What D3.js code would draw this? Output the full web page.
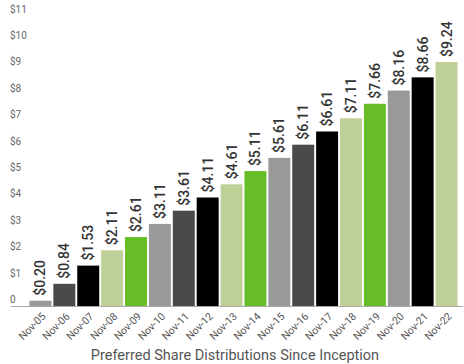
<!DOCTYPE html>
<html>
<head>
<meta charset="utf-8">
<script src="https://cdn.jsdelivr.net/npm/d3@7"></script>
<style>
  body { margin: 0; background: #fff; }
  svg { display: block; font-family: Roboto, "Noto Sans", sans-serif; }
</style>
</head>
<body>
<div id="chart"></div>
<script>
// --- data ---
const periods = ["Nov-05", "Nov-06", "Nov-07", "Nov-08", "Nov-09", "Nov-10", "Nov-11", "Nov-12", "Nov-13",
  "Nov-14", "Nov-15", "Nov-16", "Nov-17", "Nov-18", "Nov-19", "Nov-20", "Nov-21", "Nov-22"];
const distributions = [0.20, 0.84, 1.53, 2.11, 2.61, 3.11, 3.61, 4.11, 4.61,
  5.11, 5.61, 6.11, 6.61, 7.11, 7.66, 8.16, 8.66, 9.24];
const barColors = ["#999999", "#4a4a4a", "#000000", "#bfd096", "#67bd25", "#999999", "#4a4a4a", "#000000", "#bfd096",
  "#67bd25", "#999999", "#4a4a4a", "#000000", "#bfd096", "#67bd25", "#999999", "#000000", "#bfd096"];
const yTicks = [0, 1, 2, 3, 4, 5, 6, 7, 8, 9, 10, 11];
const chartTitle = "Preferred Share Distributions Since Inception";

const width = 464, height = 364;
const svg = d3.select("#chart").append("svg")
    .attr("width", width).attr("height", height);

const x = d3.scaleBand().domain(periods).range([29, 458]).paddingInner(0.08).paddingOuter(0.02);
const y = d3.scaleLinear().domain([0, 11]).range([306, 15.6]);

// y labels (no axis line)
svg.append("g").selectAll("text")
    .data(yTicks)
    .join("text")
    .attr("x", 10)
    .attr("y", d => y(d) - 3)
    .attr("fill", "#666")
    .style("font-size", "10px")
    .text(d => d === 0 ? "0" : "$" + d);

// bars
svg.append("g").selectAll("rect")
    .data(distributions)
    .join("rect")
    .attr("x", (d, i) => x(periods[i]))
    .attr("y", d => y(d))
    .attr("width", x.bandwidth())
    .attr("height", d => y(0) - y(d))
    .attr("fill", (d, i) => barColors[i]);

// value labels, rotated
svg.append("g").selectAll("text")
    .data(distributions)
    .join("text")
    .attr("transform", (d, i) => `translate(${x(periods[i]) + x.bandwidth() / 2 + 5},${y(d) - 5}) rotate(-90)`)
    .attr("fill", "#333")
    .style("font-size", "14px")
    .style("font-weight", "500")
    .text(d => "$" + d.toFixed(2));

// baseline
svg.append("line")
    .attr("x1", 11).attr("x2", 463)
    .attr("y1", y(0) + 0.5).attr("y2", y(0) + 0.5)
    .attr("stroke", "#aaa").attr("stroke-width", 1);

// x labels
svg.append("g").selectAll("text")
    .data(periods)
    .join("text")
    .attr("transform", d => `translate(${x(d) + x.bandwidth() / 2 + 6},${y(0) + 11}) rotate(-45)`)
    .attr("text-anchor", "end")
    .attr("fill", "#555")
    .style("font-size", "10.5px")
    .text(d => d);

svg.append("text")
    .attr("x", 235).attr("y", 360)
    .attr("text-anchor", "middle")
    .attr("fill", "#555")
    .style("font-size", "14.5px")
    .text(chartTitle);
</script>
</body>
</html>
